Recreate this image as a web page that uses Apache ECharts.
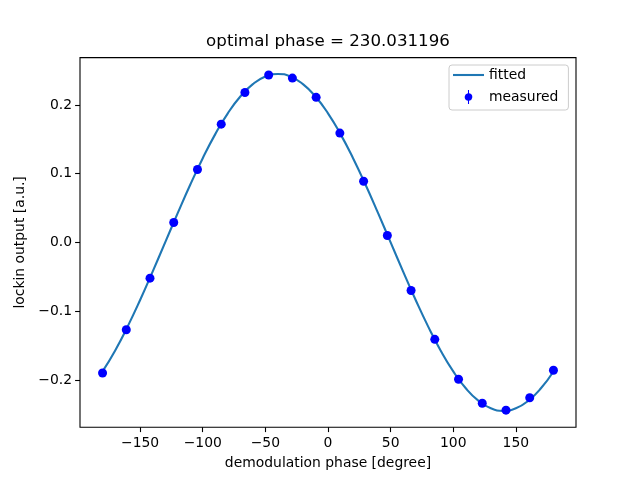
<!DOCTYPE html>
<html>
<head>
<meta charset="utf-8">
<script src="https://cdn.jsdelivr.net/npm/echarts@6/dist/echarts.min.js"></script>
<style>html,body{margin:0;padding:0;background:#fff}#c{width:640px;height:480px}</style>
</head>
<body>
<div id="c"></div>
<script>
// measured points
var measuredX = [-180, -161.05, -142.11, -123.16, -104.21, -85.26, -66.32, -47.37, -28.42, -9.47,
                 9.47, 28.42, 47.37, 66.32, 85.26, 104.21, 123.16, 142.11, 161.05, 180];
var measuredY = [-0.190, -0.127, -0.052, 0.029, 0.106, 0.172, 0.218, 0.2435, 0.239, 0.211,
                 0.159, 0.089, 0.010, -0.070, -0.141, -0.199, -0.234, -0.244, -0.226, -0.186];
// fitted curve
var fitX = [-180,-170,-160,-150,-140,-130,-120,-110,-100,-90,-80,-70,-60,-50,-40,-30,-20,-10,0,
            10,20,30,40,50,60,70,80,90,100,110,120,130,140,150,160,170,180];
var fitY = [-0.1877,-0.1575,-0.1225,-0.0838,-0.0425,0,0.0425,0.0838,0.1225,0.1575,0.1877,0.2122,
            0.2302,0.2413,0.245,0.2413,0.2302,0.2122,0.1877,0.1575,0.1225,0.0838,0.0425,0,
            -0.0425,-0.0838,-0.1225,-0.1575,-0.1877,-0.2122,-0.2302,-0.2413,-0.245,-0.2413,
            -0.2302,-0.2122,-0.1877];
var xTicks = [-150, -100, -50, 0, 50, 100, 150];
var yTicks = [-0.2, -0.1, 0, 0.1, 0.2];
var titleText = 'optimal phase = 230.031196';

function zip(a, b) { return a.map(function (v, i) { return [v, b[i]]; }); }
function minus(s) { return s.replace('-', '\u2212'); }

var font = 'DejaVu Sans';
var chart = echarts.init(document.getElementById('c'), null, { renderer: 'canvas' });
chart.setOption({
  animation: false,
  backgroundColor: '#fff',
  textStyle: { fontFamily: font },
  title: {
    text: titleText, left: 328, top: 33, padding: 0, textAlign: 'center',
    textStyle: { fontFamily: font, fontSize: 16.67, fontWeight: 'normal', color: '#000' }
  },
  grid: { left: 80, right: 64, top: 57.6, bottom: 52.8, show: true, borderColor: '#000', borderWidth: 1.1, containLabel: false },
  legend: {
    orient: 'vertical', left: 449, top: 65,
    padding: [3, 10, 6, 4], itemGap: 8, itemWidth: 31, itemHeight: 14,
    backgroundColor: 'rgba(255,255,255,0.8)', borderColor: '#cccccc', borderWidth: 1, borderRadius: 3,
    textStyle: { fontFamily: font, fontSize: 13.9, color: '#000' },
    data: [
      { name: 'fitted', icon: 'path://M0,0 L31,0 L31,2.1 L0,2.1 Z', itemStyle: { color: '#1f77b4' } },
      { name: 'measured', icon: 'path://M3.2,0 L4.2,0 L4.2,3 A3.7,3.7 0 0 1 4.2,10.3 L4.2,13.3 L3.2,13.3 L3.2,10.3 A3.7,3.7 0 0 1 3.2,3 Z', itemStyle: { color: '#0000ff' } }
    ]
  },
  xAxis: {
    type: 'value', min: -198, max: 198,
    name: 'demodulation phase [degree]', nameLocation: 'middle', nameGap: 29,
    nameTextStyle: { fontFamily: font, fontSize: 13.9, color: '#000' },
    axisLine: { show: false, onZero: false },
    axisTick: { show: true, inside: false, length: 4.9, lineStyle: { color: '#000', width: 1.1 }, customValues: xTicks },
    axisLabel: { customValues: xTicks, margin: 9, fontFamily: font, fontSize: 13.9, color: '#000',
      formatter: function (v) { return minus(String(v)); } },
    splitLine: { show: false }
  },
  yAxis: {
    type: 'value', min: -0.2688, max: 0.2688,
    name: 'lockin output [a.u.]', nameLocation: 'middle', nameGap: 42, nameRotate: 90,
    nameTextStyle: { fontFamily: font, fontSize: 13.9, color: '#000' },
    axisLine: { show: false, onZero: false },
    axisTick: { show: true, inside: false, length: 4.9, lineStyle: { color: '#000', width: 1.1 }, customValues: yTicks },
    axisLabel: { customValues: yTicks, margin: 8, fontFamily: font, fontSize: 13.9, color: '#000',
      formatter: function (v) { return minus(v.toFixed(1)); } },
    splitLine: { show: false }
  },
  series: [
    {
      name: 'fitted', type: 'line', data: zip(fitX, fitY), smooth: 0.5, symbol: 'none',
      lineStyle: { color: '#1f77b4', width: 2.1 }, itemStyle: { color: '#1f77b4' }, z: 2
    },
    {
      name: 'measured', type: 'scatter', data: zip(measuredX, measuredY), symbol: 'circle', symbolSize: 9,
      itemStyle: { color: '#0000ff', opacity: 1 }, z: 3
    }
  ]
});
</script>
</body>
</html>
